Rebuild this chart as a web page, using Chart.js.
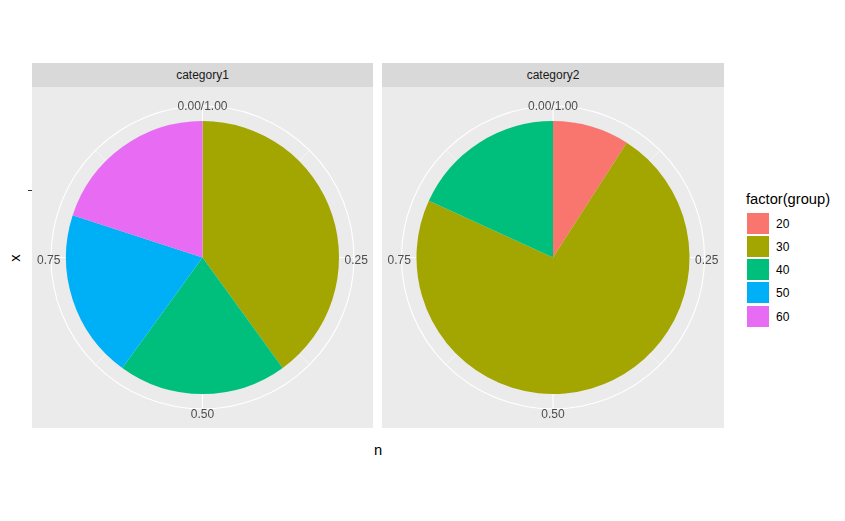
<!DOCTYPE html>
<html>
<head>
<meta charset="utf-8">
<script src="https://cdn.jsdelivr.net/npm/chart.js@4.4.1/dist/chart.umd.min.js"></script>
<style>
  body { margin: 0; background: #fff; font-family: "Liberation Sans", Arial, sans-serif; }
  #wrap { position: relative; width: 845px; height: 521px; overflow: hidden; }
  .strip { position: absolute; top: 63px; height: 24px; background: #D9D9D9; color: #1A1A1A;
           font-size: 12px; text-align: center; line-height: 25px; }
  .panel { position: absolute; top: 87px; width: 341px; height: 341px; background: #EBEBEB; }
  .panel canvas { position: absolute; left: 0; top: 0; }
  .title { position: absolute; color: #000; font-size: 14.7px; line-height: 16px; white-space: nowrap; }
  #ytitle { left: 8px; top: 250px; width: 14px; text-align: center; transform: rotate(-90deg); }
  #xtitle { left: 370px; top: 442px; width: 16px; text-align: center; }
  #ytick { position: absolute; left: 28px; top: 190px; width: 4px; height: 1px; background: #333; }
  #legend { position: absolute; left: 746px; top: 191px; }
  #legend .ltitle { font-size: 14.7px; color: #000; height: 21.5px; line-height: 17px; white-space: nowrap; }
  #legend .row { height: 23.25px; position: relative; }
  #legend .key { position: absolute; left: 1px; top: 0; width: 21.5px; height: 21px; }
  #legend .lab { position: absolute; left: 30px; top: 0; line-height: 22px; font-size: 12px; color: #000; }
</style>
</head>
<body>
<div id="wrap">
  <div class="strip" style="left:32px;width:341px;" id="strip1"></div>
  <div class="strip" style="left:382px;width:342px;" id="strip2"></div>
  <div class="panel" style="left:32px;"><canvas id="pie1" width="341" height="341"></canvas></div>
  <div class="panel" style="left:382px;width:342px;"><canvas id="pie2" width="342" height="341"></canvas></div>
  <div id="ytick"></div>
  <div class="title" id="ytitle">x</div>
  <div class="title" id="xtitle">n</div>
  <div id="legend"></div>
</div>
<script>
const groups = ["20", "30", "40", "50", "60"];
const groupColors = ["#F8766D", "#A3A500", "#00BF7D", "#00B0F6", "#E76BF3"];
const facets = ["category1", "category2"];
const category1 = [0, 2, 1, 1, 1];
const category2 = [1, 8, 2, 0, 0];
const thetaBreaks = [0, 0.25, 0.5, 0.75];
const thetaLabels = ["0.00/1.00", "0.25", "0.50", "0.75"];
const thetaMinor = [0.125, 0.375, 0.625, 0.875];

document.getElementById("strip1").textContent = facets[0];
document.getElementById("strip2").textContent = facets[1];

// legend
const legend = document.getElementById("legend");
let html = '<div class="ltitle">factor(group)</div>';
groups.forEach((g, i) => {
  html += `<div class="row"><div class="key" style="background:${groupColors[i]}"></div><div class="lab">${g}</div></div>`;
});
legend.innerHTML = html;

// polar grid + theta labels, like coord_polar
const polarGrid = {
  id: "polarGrid",
  beforeDatasetsDraw(chart) {
    const arc = chart.getDatasetMeta(0).data[0];
    const cx = arc.x, cy = arc.y;
    const r = arc.outerRadius;
    const R = r + 15;
    const ctx = chart.ctx;
    ctx.save();
    ctx.strokeStyle = "#FFFFFF";
    // minor spokes
    ctx.lineWidth = 0.55;
    thetaMinor.forEach(t => {
      const a = t * 2 * Math.PI;
      ctx.beginPath();
      ctx.moveTo(cx, cy);
      ctx.lineTo(cx + R * Math.sin(a), cy - R * Math.cos(a));
      ctx.stroke();
    });
    // major spokes
    ctx.lineWidth = 1.1;
    thetaBreaks.forEach(t => {
      const a = t * 2 * Math.PI;
      ctx.beginPath();
      ctx.moveTo(cx, cy);
      ctx.lineTo(cx + R * Math.sin(a), cy - R * Math.cos(a));
      ctx.stroke();
    });
    // circles
    ctx.beginPath();
    ctx.arc(cx, cy, R, 0, 2 * Math.PI);
    ctx.stroke();
    ctx.beginPath();
    ctx.arc(cx, cy, r / 2, 0, 2 * Math.PI);
    ctx.stroke();
    // labels
    ctx.fillStyle = "#4D4D4D";
    ctx.font = '12px "Liberation Sans", Arial, sans-serif';
    ctx.textAlign = "center";
    ctx.textBaseline = "alphabetic";
    thetaBreaks.forEach((t, i) => {
      const a = t * 2 * Math.PI;
      const lr = R + 2.25;
      const mx = cx + lr * Math.sin(a);
      const my = cy - lr * Math.cos(a) + 2;
      ctx.fillText(thetaLabels[i], mx, my + 4.3);
    });
    ctx.restore();
  }
};

function makePie(id, values) {
  return new Chart(document.getElementById(id), {
    type: "pie",
    data: {
      labels: groups,
      datasets: [{
        data: values,
        backgroundColor: groupColors,
        borderWidth: 0
      }]
    },
    options: {
      responsive: false,
      animation: false,
      radius: 136.5,
      layout: { padding: 0 },
      plugins: { legend: { display: false }, tooltip: { enabled: false } }
    },
    plugins: [polarGrid]
  });
}

makePie("pie1", category1);
makePie("pie2", category2);
</script>
</body>
</html>
